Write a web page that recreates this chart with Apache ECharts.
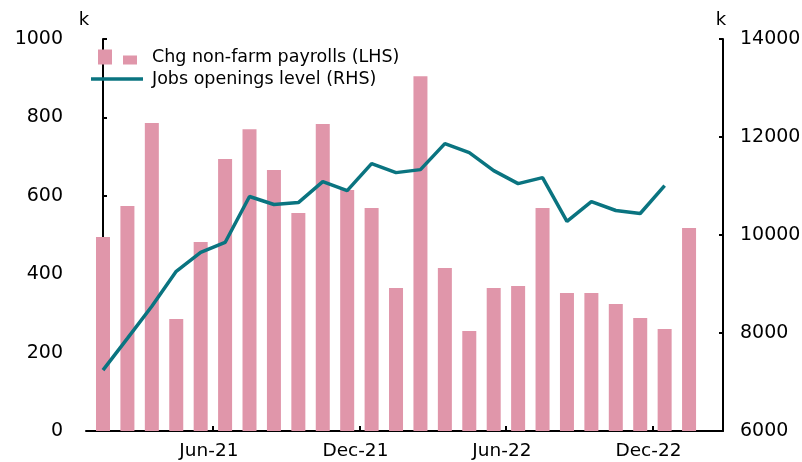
<!DOCTYPE html>
<html>
<head>
<meta charset="utf-8">
<script src="https://cdn.jsdelivr.net/npm/echarts@6/dist/echarts.min.js"></script>
<style>html,body{margin:0;padding:0;background:#fff}#c{width:802px;height:462px}</style>
</head>
<body>
<div id="c"></div>
<script>
const categories = ['Jan-21','Feb-21','Mar-21','Apr-21','May-21','Jun-21','Jul-21','Aug-21','Sep-21','Oct-21','Nov-21','Dec-21',
  'Jan-22','Feb-22','Mar-22','Apr-22','May-22','Jun-22','Jul-22','Aug-22','Sep-22','Oct-22','Nov-22','Dec-22','Jan-23'];
const payrolls = [495, 574, 786, 286, 482, 694, 770, 666, 556, 783, 615, 569, 365, 905, 416, 255, 365, 370, 569, 352, 352, 324, 288, 260, 518];
const openings = [7242, 7890, 8545, 9258, 9644, 9848, 10785, 10622, 10662, 11090, 10907, 11456, 11273, 11334, 11864, 11680, 11314, 11049, 11171, 10276, 10683, 10500, 10439, 11009];
const tickLabels = ['Jun-21','Dec-21','Jun-22','Dec-22'];
const leftTicks = [0, 200, 400, 600, 800, 1000];
const rightTicks = [6000, 8000, 10000, 12000, 14000];
const unitLabel = 'k';

const FONT = 'DejaVu Sans';
const tickPos = tickLabels.map(l => categories.indexOf(l) - 0.5);

const chart = echarts.init(document.getElementById('c'), null, {renderer: 'canvas'});
chart.setOption({
  animation: false,
  backgroundColor: '#fff',
  textStyle: {fontFamily: FONT, color: '#000'},
  grid: {left: 86, right: 79, top: 39, bottom: 31, containLabel: false, outerBoundsMode: 'none'},
  graphic: [
    {type: 'text', x: 84, y: 20, style: {text: unitLabel, font: '18px "DejaVu Sans"', fill: '#000', textAlign: 'center', textVerticalAlign: 'middle'}},
    {type: 'text', x: 721, y: 20, style: {text: unitLabel, font: '18px "DejaVu Sans"', fill: '#000', textAlign: 'center', textVerticalAlign: 'middle'}}
  ],
  legend: [
    {
      data: ['Chg non-farm payrolls (LHS)'],
      left: 98, top: 48, padding: 0,
      icon: 'path://M0,0H14V15H0Z M25,6H39V15H25Z',
      itemWidth: 39, itemHeight: 15,
      textStyle: {fontFamily: FONT, fontSize: 17.5, color: '#000', padding: [0, 0, 0, 10]}
    },
    {
      data: ['Jobs openings level (RHS)'],
      left: 91, top: 70, padding: 0,
      icon: 'rect',
      itemWidth: 52, itemHeight: 3.5,
      textStyle: {fontFamily: FONT, fontSize: 17.5, color: '#000', padding: [0, 0, 0, 4]}
    }
  ],
  xAxis: {
    type: 'value',
    min: -0.696, max: 25.39,
    splitLine: {show: false},
    axisLine: {show: true, onZero: false, lineStyle: {color: '#000', width: 2}},
    axisTick: {show: true, inside: true, length: 5, customValues: tickPos, lineStyle: {color: '#000', width: 2}},
    axisLabel: {
      customValues: tickPos,
      fontFamily: FONT, fontSize: 18.5, color: '#000', margin: 11,
      padding: [0, 8, 0, 0],
      formatter: v => categories[Math.round(v + 0.5)]
    }
  },
  yAxis: [
    {
      type: 'value', min: leftTicks[0], max: leftTicks[leftTicks.length - 1], interval: 200,
      splitLine: {show: false},
      axisLine: {show: true, lineStyle: {color: '#000', width: 2}},
      axisTick: {show: true, inside: true, length: 4, lineStyle: {color: '#000', width: 2}},
      axisLabel: {fontFamily: FONT, fontSize: 19, color: '#000', margin: 23, formatter: v => String(v)}
    },
    {
      type: 'value', position: 'right', min: rightTicks[0], max: rightTicks[rightTicks.length - 1], interval: 2000,
      splitLine: {show: false},
      axisLine: {show: true, lineStyle: {color: '#000', width: 2}},
      axisTick: {show: true, inside: true, length: 4, lineStyle: {color: '#000', width: 2}},
      axisLabel: {fontFamily: FONT, fontSize: 19, color: '#000', margin: 17, formatter: v => String(v)}
    }
  ],
  series: [
    {
      name: 'Chg non-farm payrolls (LHS)',
      type: 'bar',
      barWidth: 14,
      itemStyle: {color: '#e096aa'},
      data: payrolls.map((v, i) => [i, v])
    },
    {
      name: 'Jobs openings level (RHS)',
      type: 'line',
      yAxisIndex: 1,
      symbol: 'none',
      itemStyle: {color: '#0a7480'},
      lineStyle: {color: '#0a7480', width: 3.5},
      data: openings.map((v, i) => [i, v])
    }
  ]
});
</script>
</body>
</html>
